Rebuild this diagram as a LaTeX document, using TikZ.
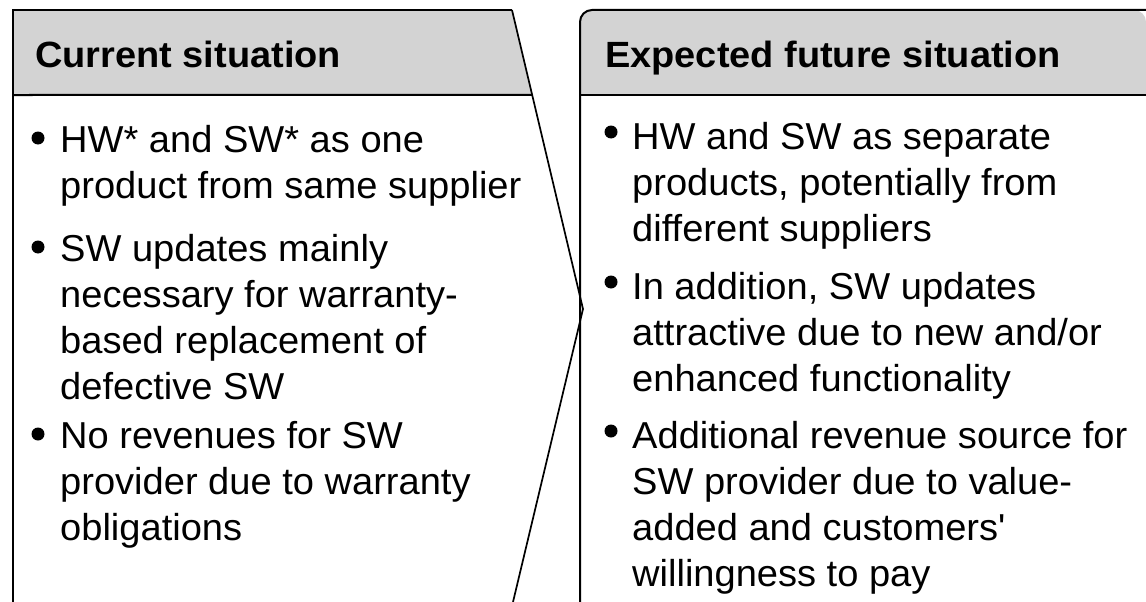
\documentclass[tikz,border=0pt]{standalone}
\usepackage{fontspec}
\usetikzlibrary{calc}
\newfontfamily\bodyfont[FakeStretch=1.015,Ligatures=TeXOff]{Liberation Sans}
\newfontfamily\headfont[FakeStretch=1.04,Ligatures=TeXOff]{Liberation Sans}
\definecolor{headgray}{RGB}{211,211,211}
\tikzset{
  frame/.style={line width=2pt, line join=miter},
  thinframe/.style={line width=1.7pt},
  head/.style={font=\headfont\bfseries\fontsize{36.5}{43}\selectfont, anchor=base west, inner sep=0pt},
  body/.style={font=\bodyfont\fontsize{37.5}{46}\selectfont, anchor=base west, inner sep=0pt},
  dot/.style={circle, fill=black, minimum size=13pt, inner sep=0pt}
}
\begin{document}
\begin{tikzpicture}[x=1pt,y=-1pt]
\useasboundingbox (0,0) rectangle (1146,602);

% left panel outline points (arrow-shaped right side)
\coordinate (lbot) at (13,602);
\coordinate (ltl) at (13,10);
\coordinate (ltr) at (512,10);
\coordinate (tip) at (583,309);
\coordinate (lbr) at (513,602);
\coordinate (lhl) at (13,95);
\coordinate (lhr) at ($(ltr)!85/299!(tip)$);

% right panel outline points
\coordinate (rbot) at (580,602);
\coordinate (rtl) at (580,10);
\coordinate (rtr) at (1146,10);
\coordinate (rhl) at (580,95);
\coordinate (rhr) at (1146,95);

% header backgrounds
\fill[headgray] (ltl) -- (ltr) -- (lhr) -- (lhl) -- cycle;
\fill[headgray] (rhl) [rounded corners=12pt] -- (rtl) -- (rtr) [sharp corners] -- (rhr) -- cycle;

% outlines
\draw[frame] (lbot) -- (ltl) -- (ltr);
\draw[thinframe] (ltr) -- (tip) -- (lbr);
\draw[frame] (lhl) -- (lhr);
\draw[frame] (rbot) [rounded corners=12pt] -- (rtl) -- (rtr);
\draw[frame] (rhl) -- (rhr);

% headings
\node[head] (hl) at (35,68) {Current situation};
\node[head] (hr) at (605,68) {Expected future situation};

% left column
\node[body] (l1) at (60,152) {HW* and SW* as one};
\node[body] (l2) at (60,198) {product from same supplier};
\node[body] (l3) at (60,261) {SW updates mainly};
\node[body] (l4) at (60,307) {necessary for warranty-};
\node[body] (l5) at (60,353) {based replacement of};
\node[body] (l6) at (60,399) {defective SW};
\node[body] (l7) at (60,448) {No revenues for SW};
\node[body] (l8) at (60,494) {provider due to warranty};
\node[body] (l9) at (60,540) {obligations};
\node[dot] (bl1) at ($(l1.base west)+(-22,-14)$) {};
\node[dot] (bl2) at ($(l3.base west)+(-22,-14)$) {};
\node[dot] (bl3) at ($(l7.base west)+(-22,-14)$) {};

% right column
\node[body] (r1) at (632,149) {HW and SW as separate};
\node[body] (r2) at (632,195) {products, potentially from};
\node[body] (r3) at (632,241) {different suppliers};
\node[body] (r4) at (632,299) {In addition, SW updates};
\node[body] (r5) at (632,345) {attractive due to new and/or};
\node[body] (r6) at (632,391) {enhanced functionality};
\node[body] (r7) at (632,448) {Additional revenue source for};
\node[body] (r8) at (632,494) {SW provider due to value-};
\node[body] (r9) at (632,540) {added and customers'};
\node[body] (r10) at (632,586) {willingness to pay};
\node[dot] (br1) at ($(r1.base west)+(-21,-17)$) {};
\node[dot] (br2) at ($(r4.base west)+(-21,-17)$) {};
\node[dot] (br3) at ($(r7.base west)+(-21,-17)$) {};
\end{tikzpicture}
\end{document}
